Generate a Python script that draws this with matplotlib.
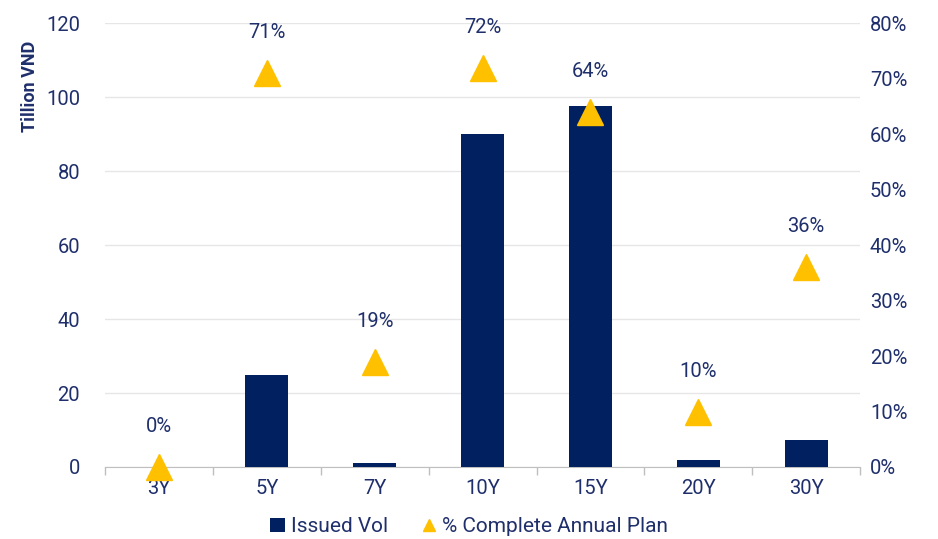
import matplotlib
matplotlib.use("Agg")
import matplotlib.pyplot as plt
from matplotlib.lines import Line2D
from matplotlib.patches import Patch

plt.rcParams['font.family'] = ['Roboto', 'DejaVu Sans']

categories = ["3Y", "5Y", "7Y", "10Y", "15Y", "20Y", "30Y"]
issued_vol = [0, 25, 1, 90, 97.5, 2, 7.3]
pct_complete = [0, 71, 19, 72, 64, 10, 36]
pct_labels = ["0%", "71%", "19%", "72%", "64%", "10%", "36%"]

navy = "#002060"
text_c = "#1F2F6B"
gold = "#FFC000"
fs = 14.5

fig = plt.figure(figsize=(9.38, 5.39), dpi=100)
ax = fig.add_axes([0.112, 0.1336, 0.805, 0.8234])
ax2 = ax.twinx()

x = list(range(len(categories)))
ax.bar(x, issued_vol, width=0.4, color=navy, zorder=3)
ax.set_ylim(0, 120)
ax.set_yticks(range(0, 121, 20))
ax.set_xlim(-0.5, len(categories) - 0.5)
ax.set_xticks(x)
ax.set_xticklabels(categories)
ax.set_xticks([i - 0.5 for i in range(len(categories) + 1)], minor=True)
ax.tick_params(axis='x', which='major', length=0, pad=9, labelsize=fs, labelcolor=text_c)
ax.tick_params(axis='x', which='minor', length=6, color="#BFBFBF", width=1)
ax.tick_params(axis='y', length=0, labelsize=fs, labelcolor=text_c, pad=18)
ax.grid(axis='y', color="#E6E6E6", linewidth=1, zorder=0)
ax.set_axisbelow(True)
for s in ['top', 'left', 'right']:
    ax.spines[s].set_visible(False)
ax.spines['bottom'].set_color("#BFBFBF")
ax.set_ylabel("Tillion VND", fontsize=13, fontweight='bold', color=text_c)
ax.yaxis.set_label_coords(-0.088, 0.857)

ax2.plot(x, pct_complete, linestyle='none', marker='^', markersize=19, color=gold,
         zorder=4, clip_on=False)
ax2.set_ylim(0, 80)
ax2.set_yticks(range(0, 81, 10))
ax2.set_yticklabels([f"{v}%" for v in range(0, 81, 10)])
ax2.tick_params(axis='y', length=0, labelsize=fs, labelcolor=text_c, pad=7)
for s in ['top', 'left', 'right', 'bottom']:
    ax2.spines[s].set_visible(False)
for xi, v, lab in zip(x, pct_complete, pct_labels):
    ax2.annotate(lab, (xi, v), xytext=(0, 29), textcoords='offset points',
                 ha='center', va='center', fontsize=fs, color=text_c)

handles = [Patch(facecolor=navy, label="Issued Vol"),
           Line2D([], [], linestyle='none', marker='^', markersize=8, color=gold,
                  label="% Complete Annual Plan")]
fig.legend(handles=handles, loc='lower center', bbox_to_anchor=(0.5, -0.03), ncol=2,
           frameon=False, fontsize=15, labelcolor=text_c, handlelength=0.7,
           handletextpad=0.3, columnspacing=1.6)

fig.savefig("out.png", dpi=100)
